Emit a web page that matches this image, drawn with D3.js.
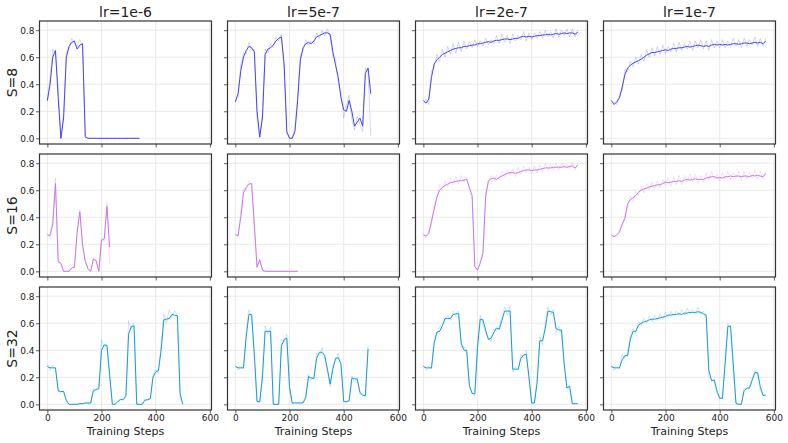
<!DOCTYPE html>
<html lang="en">
<head>
<meta charset="UTF-8">
<script src="https://d3js.org/d3.v7.min.js"></script>
<style>
  body { margin: 0; background: #fff; }
  text { font-family: "DejaVu Sans", sans-serif; fill: #222; }
</style>
</head>
<body>
<script>

// one value every 10 training steps, starting at step 0
const stepEvery = 10;

const colTitles = ["lr=1e-6", "lr=5e-7", "lr=2e-7", "lr=1e-7"];
const rowLabels = ["S=8", "S=16", "S=32"];
const xTicks = [0, 200, 400, 600];
const yTicks = [0, 0.2, 0.4, 0.6, 0.8];

// S=8
const s8_1e6 = [0.28,0.40,0.60,0.65,0.30,0.0,0.15,0.60,0.68,0.71, 0.72,0.66,0.69,0.70,0.01,0,0,0,0,0, 0,0,0,0,0,0,0,0,0,0, 0,0,0,0,0];
const s8_1e6_raw = [0.27,0.45,0.66,0.62,0.38,0.0,0.2,0.64,0.66,0.74, 0.70,0.68,0.73,0.68,0.02,0,0,0,0,0, 0,0,0,0,0,0,0,0,0,0, 0,0,0,0,0];
const s8_5e7 = [0.27,0.33,0.50,0.60,0.65,0.68,0.67,0.64,0.20,0.01, 0.15,0.62,0.66,0.67,0.69,0.72,0.74,0.75,0.55,0.05, 0.0,0.0,0.05,0.28,0.58,0.67,0.70,0.71,0.70,0.72, 0.75,0.76,0.77,0.78,0.78,0.77,0.64,0.54,0.45,0.30, 0.21,0.20,0.28,0.20,0.09,0.12,0.15,0.09,0.48,0.52, 0.33];
const s8_5e7_raw = [0.29,0.30,0.54,0.63,0.62,0.71,0.65,0.66,0.15,0.0, 0.2,0.66,0.63,0.70,0.67,0.75,0.72,0.77,0.50,0.03, 0.0,0.01,0.08,0.32,0.62,0.65,0.73,0.69,0.72,0.70, 0.78,0.74,0.80,0.76,0.81,0.75,0.61,0.58,0.40,0.34, 0.15,0.24,0.32,0.14,0.06,0.16,0.10,0.05,0.52,0.49, 0.02];
const s8_2e7 = [0.28,0.26,0.29,0.45,0.55,0.58,0.60,0.62,0.63,0.64, 0.65,0.66,0.665,0.67,0.67,0.68,0.68,0.685,0.69,0.69, 0.70,0.70,0.705,0.71,0.715,0.71,0.72,0.725,0.725,0.73, 0.735,0.735,0.73,0.735,0.74,0.74,0.75,0.755,0.75,0.755, 0.75,0.755,0.76,0.76,0.765,0.765,0.77,0.765,0.77,0.775, 0.77,0.775,0.78,0.775,0.78,0.78,0.77,0.785];
const s8_2e7_raw = [0.26,0.29,0.25,0.50,0.52,0.62,0.57,0.66,0.60,0.68, 0.62,0.70,0.63,0.71,0.64,0.72,0.66,0.71,0.67,0.73, 0.68,0.72,0.68,0.74,0.69,0.73,0.70,0.76,0.70,0.77, 0.71,0.76,0.70,0.77,0.72,0.76,0.73,0.79,0.72,0.78, 0.73,0.78,0.74,0.79,0.74,0.80,0.75,0.79,0.74,0.81, 0.75,0.80,0.76,0.81,0.75,0.81,0.75,0.80];
const s8_1e7 = [0.28,0.25,0.27,0.30,0.38,0.47,0.52,0.54,0.555,0.565, 0.575,0.585,0.60,0.615,0.625,0.635,0.635,0.64,0.645,0.65, 0.655,0.65,0.66,0.665,0.665,0.67,0.67,0.675,0.68,0.675, 0.68,0.685,0.69,0.685,0.68,0.685,0.68,0.69,0.695,0.69, 0.695,0.69,0.695,0.69,0.695,0.70,0.70,0.695,0.70,0.705, 0.705,0.70,0.705,0.71,0.705,0.71,0.70,0.72];
const s8_1e7_raw = [0.26,0.27,0.25,0.33,0.35,0.51,0.49,0.57,0.53,0.60, 0.55,0.62,0.57,0.65,0.60,0.67,0.61,0.68,0.62,0.69, 0.63,0.68,0.64,0.70,0.64,0.71,0.65,0.70,0.66,0.72, 0.65,0.72,0.67,0.73,0.66,0.72,0.65,0.73,0.67,0.72, 0.67,0.73,0.67,0.72,0.68,0.74,0.68,0.73,0.67,0.74, 0.68,0.73,0.69,0.75,0.68,0.74,0.68,0.74];

// S=16
const s16_1e6 = [0.27,0.265,0.35,0.65,0.07,0.06,0.0,0.0,0.0,0.025, 0.03,0.29,0.44,0.20,0.075,0.02,0.0,0.09,0.08,0.0, 0.23,0.24,0.48,0.18];
const s16_1e6_raw = [0.28,0.25,0.40,0.69,0.09,0.05,0.0,0.0,0.01,0.02, 0.04,0.30,0.46,0.16,0.08,0.01,0.0,0.10,0.06,0.0, 0.25,0.22,0.51,0.05];
const s16_5e7 = [0.27,0.265,0.40,0.58,0.62,0.645,0.65,0.35,0.03,0.085, 0.01,0,0,0,0,0,0,0,0,0, 0,0,0,0];
const s16_5e7_raw = [0.28,0.25,0.45,0.62,0.60,0.67,0.63,0.30,0.04,0.09, 0.0,0,0,0,0,0,0,0,0,0, 0,0,0,0];
const s16_2e7 = [0.27,0.26,0.28,0.37,0.46,0.55,0.60,0.62,0.635,0.645, 0.655,0.66,0.665,0.67,0.67,0.675,0.68,0.62,0.56,0.035, 0.01,0.06,0.13,0.55,0.67,0.685,0.69,0.68,0.695,0.705, 0.715,0.725,0.73,0.73,0.725,0.73,0.74,0.745,0.75,0.75, 0.745,0.75,0.75,0.755,0.76,0.765,0.765,0.765,0.77,0.77, 0.77,0.77,0.775,0.77,0.775,0.78,0.765,0.785];
const s16_2e7_raw = [0.28,0.25,0.30,0.35,0.50,0.53,0.64,0.60,0.67,0.62, 0.69,0.64,0.70,0.65,0.71,0.66,0.70,0.58,0.54,0.04, 0.0,0.08,0.15,0.60,0.65,0.71,0.67,0.71,0.68,0.74, 0.70,0.75,0.71,0.76,0.70,0.77,0.72,0.78,0.73,0.77, 0.72,0.78,0.73,0.79,0.74,0.80,0.75,0.79,0.75,0.80, 0.75,0.80,0.76,0.79,0.76,0.81,0.75,0.80];
const s16_1e7 = [0.27,0.255,0.27,0.29,0.35,0.39,0.50,0.53,0.545,0.56, 0.585,0.60,0.61,0.615,0.625,0.63,0.635,0.64,0.64,0.65, 0.66,0.655,0.66,0.665,0.665,0.67,0.665,0.675,0.68,0.675, 0.68,0.685,0.68,0.68,0.68,0.69,0.695,0.70,0.70,0.69, 0.695,0.69,0.70,0.70,0.705,0.70,0.705,0.705,0.70,0.705, 0.705,0.70,0.71,0.705,0.71,0.705,0.70,0.725];
const s16_1e7_raw = [0.26,0.27,0.25,0.31,0.33,0.42,0.47,0.56,0.52,0.59, 0.56,0.63,0.58,0.65,0.60,0.66,0.61,0.67,0.62,0.68, 0.64,0.69,0.63,0.70,0.64,0.71,0.64,0.71,0.66,0.72, 0.66,0.72,0.65,0.71,0.66,0.73,0.67,0.74,0.68,0.72, 0.67,0.73,0.68,0.74,0.68,0.73,0.69,0.74,0.67,0.74, 0.68,0.73,0.69,0.75,0.68,0.74,0.68,0.74];

// S=32
const s32_1e6 = [0.28,0.27,0.27,0.27,0.10,0.095,0.095,0.03,0.0,0.0, 0.0,0.0,0.005,0.005,0.01,0.01,0.01,0.10,0.11,0.115, 0.40,0.44,0.435,0.22,0.0,0.0,0.02,0.035,0.035,0.06, 0.52,0.575,0.58,0.0,0.0,0.0,0.03,0.035,0.04,0.20, 0.24,0.25,0.40,0.625,0.63,0.635,0.665,0.66,0.655,0.08, 0.0];
const s32_1e6_raw = [0.30,0.25,0.29,0.26,0.12,0.08,0.10,0.02,0.0,0.0, 0.0,0.0,0.01,0.0,0.01,0.005,0.01,0.12,0.10,0.13, 0.48,0.42,0.45,0.18,0.0,0.0,0.03,0.04,0.03,0.08, 0.62,0.56,0.60,0.0,0.0,0.0,0.04,0.03,0.05,0.22, 0.26,0.23,0.45,0.67,0.60,0.70,0.64,0.69,0.66,0.05, 0.0];
const s32_5e7 = [0.28,0.27,0.27,0.27,0.50,0.665,0.665,0.37,0.02,0.02, 0.20,0.54,0.54,0.54,0.0,0.0,0.0,0.43,0.48,0.49, 0.13,0.01,0.01,0.01,0.01,0.01,0.05,0.205,0.195,0.19, 0.34,0.385,0.385,0.36,0.26,0.15,0.26,0.34,0.345,0.30, 0.02,0.02,0.025,0.19,0.19,0.185,0.09,0.065,0.065,0.41];
const s32_5e7_raw = [0.30,0.25,0.28,0.26,0.55,0.70,0.64,0.35,0.03,0.01, 0.25,0.58,0.52,0.57,0.0,0.0,0.0,0.48,0.46,0.52, 0.10,0.0,0.02,0.01,0.0,0.02,0.07,0.22,0.18,0.21, 0.38,0.36,0.42,0.33,0.24,0.13,0.30,0.32,0.38,0.28, 0.03,0.01,0.04,0.21,0.17,0.20,0.07,0.08,0.05,0.44];
const s32_2e7 = [0.28,0.27,0.27,0.27,0.45,0.535,0.54,0.58,0.635,0.635, 0.635,0.665,0.67,0.67,0.45,0.40,0.40,0.14,0.08,0.078, 0.42,0.63,0.625,0.55,0.48,0.49,0.53,0.565,0.555,0.62, 0.69,0.69,0.69,0.26,0.26,0.26,0.34,0.365,0.37,0.20, 0.01,0.01,0.16,0.47,0.47,0.56,0.69,0.685,0.68,0.56, 0.55,0.55,0.30,0.12,0.135,0.005,0.005,0.005];
const s32_2e7_raw = [0.29,0.25,0.28,0.26,0.50,0.52,0.57,0.60,0.61,0.66, 0.62,0.69,0.65,0.69,0.42,0.43,0.37,0.12,0.09,0.06, 0.46,0.66,0.60,0.52,0.50,0.46,0.56,0.54,0.58,0.65, 0.72,0.66,0.73,0.24,0.28,0.25,0.37,0.34,0.40,0.18, 0.0,0.02,0.20,0.50,0.44,0.60,0.72,0.66,0.70,0.53, 0.58,0.52,0.27,0.14,0.11,0.0,0.01,0.0];
const s32_1e7 = [0.28,0.27,0.27,0.27,0.33,0.36,0.36,0.48,0.54,0.54, 0.585,0.60,0.61,0.615,0.625,0.63,0.63,0.635,0.64,0.645, 0.65,0.66,0.66,0.665,0.665,0.67,0.665,0.675,0.675,0.68, 0.68,0.68,0.685,0.68,0.67,0.66,0.25,0.175,0.18,0.10, 0.045,0.045,0.30,0.575,0.58,0.30,0.01,0.0,0.0,0.10, 0.12,0.12,0.18,0.235,0.235,0.13,0.065,0.07];
const s32_1e7_raw = [0.29,0.25,0.28,0.26,0.37,0.34,0.38,0.52,0.56,0.52, 0.61,0.58,0.64,0.60,0.65,0.61,0.66,0.62,0.67,0.63, 0.68,0.64,0.69,0.65,0.69,0.66,0.70,0.66,0.71,0.67, 0.70,0.67,0.72,0.66,0.69,0.64,0.20,0.19,0.16,0.08, 0.05,0.04,0.35,0.60,0.56,0.25,0.0,0.0,0.01,0.12, 0.11,0.13,0.20,0.25,0.22,0.10,0.07,0.06];

const rowColors = ["#4646ee", "#c679e6", "#1a9bd7"];

const grid = [
    [[s8_1e6, s8_1e6_raw], [s8_5e7, s8_5e7_raw], [s8_2e7, s8_2e7_raw], [s8_1e7, s8_1e7_raw]],
    [[s16_1e6, s16_1e6_raw], [s16_5e7, s16_5e7_raw], [s16_2e7, s16_2e7_raw], [s16_1e7, s16_1e7_raw]],
    [[s32_1e6, s32_1e6_raw], [s32_5e7, s32_5e7_raw], [s32_2e7, s32_2e7_raw], [s32_1e7, s32_1e7_raw]]
];

// layout
const W = 788, H = 443;
const left0 = 39.5, top0 = 21;
const pw = 172, ph = 123;
const dx = 188, dy = 133;

const svg = d3.select("body").append("svg")
    .attr("width", W)
    .attr("height", H);

const x = d3.scaleLinear().domain([-29, 606]).range([0, pw]);
const y = d3.scaleLinear().domain([-0.042, 0.868]).range([ph, 0]);

const line = d3.line()
    .x((d, i) => x(i * stepEvery))
    .y(d => y(d));

grid.forEach((row, r) => {
    row.forEach((cell, c) => {
        const g = svg.append("g")
            .attr("transform", `translate(${left0 + c * dx},${top0 + r * dy})`);

        // grid lines
        g.selectAll(".gx").data(xTicks).enter().append("line")
            .attr("x1", d => x(d)).attr("x2", d => x(d))
            .attr("y1", 0).attr("y2", ph)
            .attr("stroke", "#e4e4e4").attr("stroke-width", 0.8);
        g.selectAll(".gy").data(yTicks).enter().append("line")
            .attr("x1", 0).attr("x2", pw)
            .attr("y1", d => y(d)).attr("y2", d => y(d))
            .attr("stroke", "#e4e4e4").attr("stroke-width", 0.8);

        // raw (light) and smoothed lines
        g.append("path")
            .datum(cell[1])
            .attr("d", line)
            .attr("fill", "none")
            .attr("stroke", rowColors[r])
            .attr("stroke-opacity", 0.22)
            .attr("stroke-width", 1);
        g.append("path")
            .datum(cell[0])
            .attr("d", line)
            .attr("fill", "none")
            .attr("stroke", rowColors[r])
            .attr("stroke-width", 1);

        // axes
        const ax = g.append("g")
            .attr("transform", `translate(0,${ph})`)
            .call(d3.axisBottom(x).tickValues(xTicks).tickSize(3.5).tickPadding(1)
                .tickFormat(r === 2 ? d3.format("d") : ""));
        const ay = g.append("g")
            .call(d3.axisLeft(y).tickValues(yTicks).tickSize(3.5).tickPadding(1.5)
                .tickFormat(c === 0 ? d3.format(".1f") : ""));
        [ax, ay].forEach(a => {
            a.select(".domain").remove();
            a.selectAll(".tick line").attr("stroke", "#333").attr("stroke-width", 0.8);
            a.selectAll(".tick text").style("font-size", "9px").attr("fill", "#222");
        });

        // frame
        g.append("rect")
            .attr("width", pw).attr("height", ph)
            .attr("fill", "none")
            .attr("stroke", "#333")
            .attr("stroke-width", 1.2);

        if (r === 0) {
            g.append("text")
                .attr("x", pw / 2).attr("y", -4.5)
                .attr("text-anchor", "middle")
                .style("font-size", "14px")
                .text(colTitles[c]);
        }
        if (r === 2) {
            g.append("text")
                .attr("x", pw / 2).attr("y", ph + 25)
                .attr("text-anchor", "middle")
                .style("font-size", "11px")
                .text("Training Steps");
        }
        if (c === 0) {
            g.append("text")
                .attr("transform", `translate(${-22.5},${ph / 2}) rotate(-90)`)
                .attr("text-anchor", "middle")
                .style("font-size", "14px")
                .text(rowLabels[r]);
        }
    });
});

</script>
</body>
</html>
